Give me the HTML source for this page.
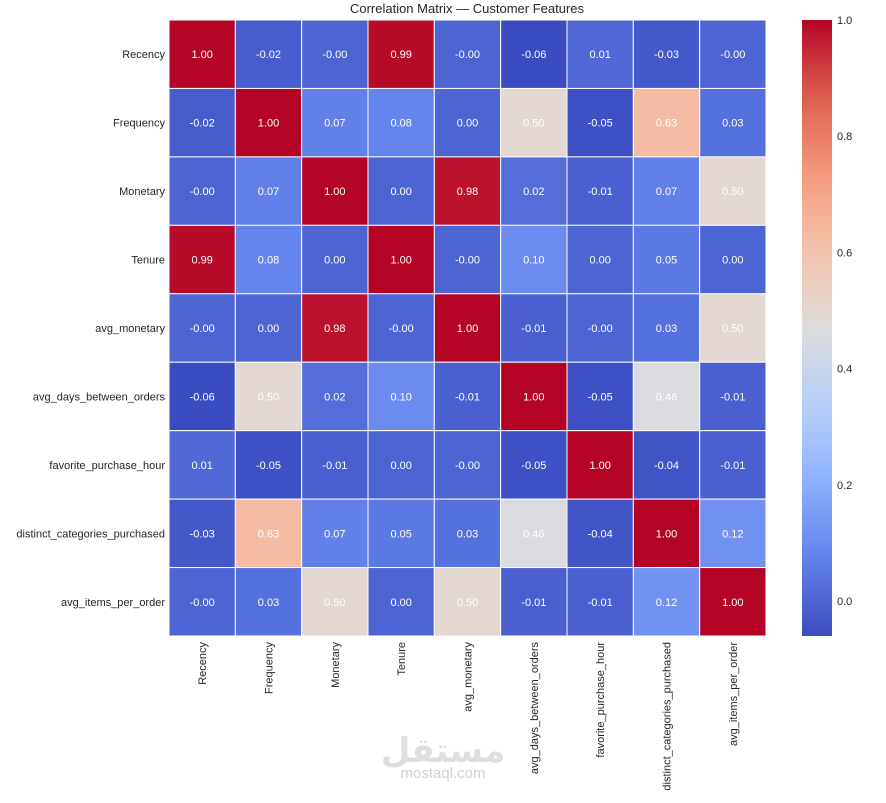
<!DOCTYPE html>
<html><head><meta charset="utf-8"><style>
body{margin:0;background:#fff;width:886px;height:798px;overflow:hidden;font-family:"Liberation Sans",sans-serif}
</style></head><body>
<svg id="chart" width="886" height="798" xmlns="http://www.w3.org/2000/svg" font-family="Liberation Sans, sans-serif">
<defs><linearGradient id="cbg" x1="0" y1="1" x2="0" y2="0"></linearGradient></defs>
<text x="467" y="13" text-anchor="middle" font-size="13" fill="#262626">Correlation Matrix — Customer Features</text>
<g id="cells"></g><g id="labels"></g>
<rect x="802" y="20" width="30" height="616" fill="url(#cbg)"/>
<g id="cbticks"></g>
<text x="443" y="762" text-anchor="middle" font-size="34" font-weight="bold" fill="#dedede" font-family="DejaVu Sans, sans-serif">مستقل</text>
<text x="443" y="778" text-anchor="middle" font-size="15" fill="#d0d0d0">mostaql.com</text>
</svg>
<script>
const features=["Recency","Frequency","Monetary","Tenure","avg_monetary","avg_days_between_orders","favorite_purchase_hour","distinct_categories_purchased","avg_items_per_order"];
const corr=[
[1.00,-0.02,-0.00,0.99,-0.00,-0.06,0.01,-0.03,-0.00],
[-0.02,1.00,0.07,0.08,0.00,0.50,-0.05,0.63,0.03],
[-0.00,0.07,1.00,0.00,0.98,0.02,-0.01,0.07,0.50],
[0.99,0.08,0.00,1.00,-0.00,0.10,0.00,0.05,0.00],
[-0.00,0.00,0.98,-0.00,1.00,-0.01,-0.00,0.03,0.50],
[-0.06,0.50,0.02,0.10,-0.01,1.00,-0.05,0.46,-0.01],
[0.01,-0.05,-0.01,0.00,-0.00,-0.05,1.00,-0.04,-0.01],
[-0.03,0.63,0.07,0.05,0.03,0.46,-0.04,1.00,0.12],
[-0.00,0.03,0.50,0.00,0.50,-0.01,-0.01,0.12,1.00]];
const cbTicks=[0.0,0.2,0.4,0.6,0.8,1.0];
const vmin=-0.06,vmax=1.0;
const X0=169,Y0=20,W=597,H=616;
const stops=[[59,76,192],[98,130,234],[141,176,254],[184,208,249],[221,220,220],[245,196,173],[244,154,123],[222,96,77],[180,4,38]];
function cmap(t){t=Math.max(0,Math.min(1,t));const p=t*8,i=Math.min(7,Math.floor(p)),f=p-i;const a=stops[i],b=stops[i+1];return `rgb(${a.map((v,k)=>Math.round(v+(b[k]-v)*f)).join(',')})`;}
function norm(v){return (v-vmin)/(vmax-vmin);}
function fmt(v){const s=Math.abs(v).toFixed(2);return (v<0||Object.is(v,-0))?'-'+s:s;}
const n=features.length,cw=W/n,ch=H/n;
const xs=i=>X0+i*cw, ys=j=>Y0+j*ch;
const NS="http://www.w3.org/2000/svg";
const cells=document.getElementById('cells'),labels=document.getElementById('labels');
function mk(tag,attrs,parent){const e=document.createElementNS(NS,tag);for(const k in attrs)e.setAttribute(k,attrs[k]);parent.appendChild(e);return e;}
corr.forEach((row,j)=>row.forEach((v,i)=>{
 const r=mk('rect',{x:xs(i),y:ys(j),width:cw,height:ch,fill:cmap(norm(v)),stroke:'#fff','stroke-width':1},cells);
 
 
 const t=mk('text',{x:xs(i)+cw/2,y:ys(j)+ch/2+4,'text-anchor':'middle','font-size':11,fill:'#fff'},cells);
 
 
 t.textContent=fmt(v);
}));
features.forEach((f,k)=>{
 const t=mk('text',{x:165,y:ys(k)+ch/2+4,'text-anchor':'end','font-size':11,fill:'#262626'},labels);
 
 
 t.textContent=f;
 const cx=xs(k)+cw/2+4;
 const u=mk('text',{x:cx,y:642,'text-anchor':'end','font-size':11,fill:'#262626',transform:`rotate(-90 ${cx} 642)`},labels);
 
 
 u.textContent=f;
});
const g=document.getElementById('cbg');
for(let s=0;s<=20;s++){mk('stop',{offset:s/20,'stop-color':cmap(s/20)},g);}
const cbt=document.getElementById('cbticks');
cbTicks.forEach(v=>{
 const y=636-norm(v)*616;
 const t=mk('text',{x:837,y:y+4,'font-size':11,fill:'#262626'},cbt);
 
 
 t.textContent=v.toFixed(1);
});
</script>
</body></html>
